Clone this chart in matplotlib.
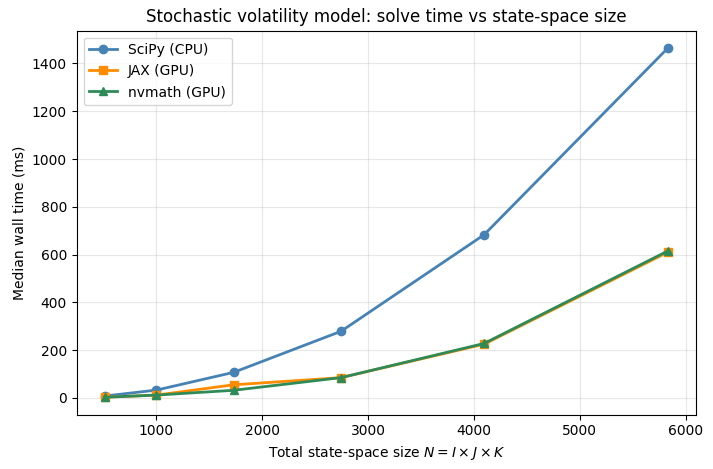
import matplotlib
matplotlib.use("Agg")
import matplotlib.pyplot as plt

# state-space sizes (I = J = K = n, N = n^3)
sizes = [512, 1000, 1728, 2744, 4096, 5832]

# median wall time in ms
scipy_ms = [8, 33, 107, 279, 683, 1464]
jax_ms = [3, 12, 55, 85, 225, 610]
nvmath_ms = [3, 12, 32, 85, 228, 615]

fig, ax = plt.subplots(figsize=(7.13, 4.69), dpi=100)
ax.plot(sizes, scipy_ms, marker="o", color="steelblue", lw=2, label="SciPy (CPU)")
ax.plot(sizes, jax_ms, marker="s", color="darkorange", lw=2, label="JAX (GPU)")
ax.plot(sizes, nvmath_ms, marker="^", color="seagreen", lw=2, label="nvmath (GPU)")

ax.set_xlabel(r"Total state-space size $N = I \times J \times K$")
ax.set_ylabel("Median wall time (ms)")
ax.set_title("Stochastic volatility model: solve time vs state-space size")
ax.grid(True, alpha=0.3)
ax.legend(loc="upper left")

fig.subplots_adjust(left=0.1076, right=0.976, bottom=0.1158, top=0.9345)
fig.savefig("out.png")
